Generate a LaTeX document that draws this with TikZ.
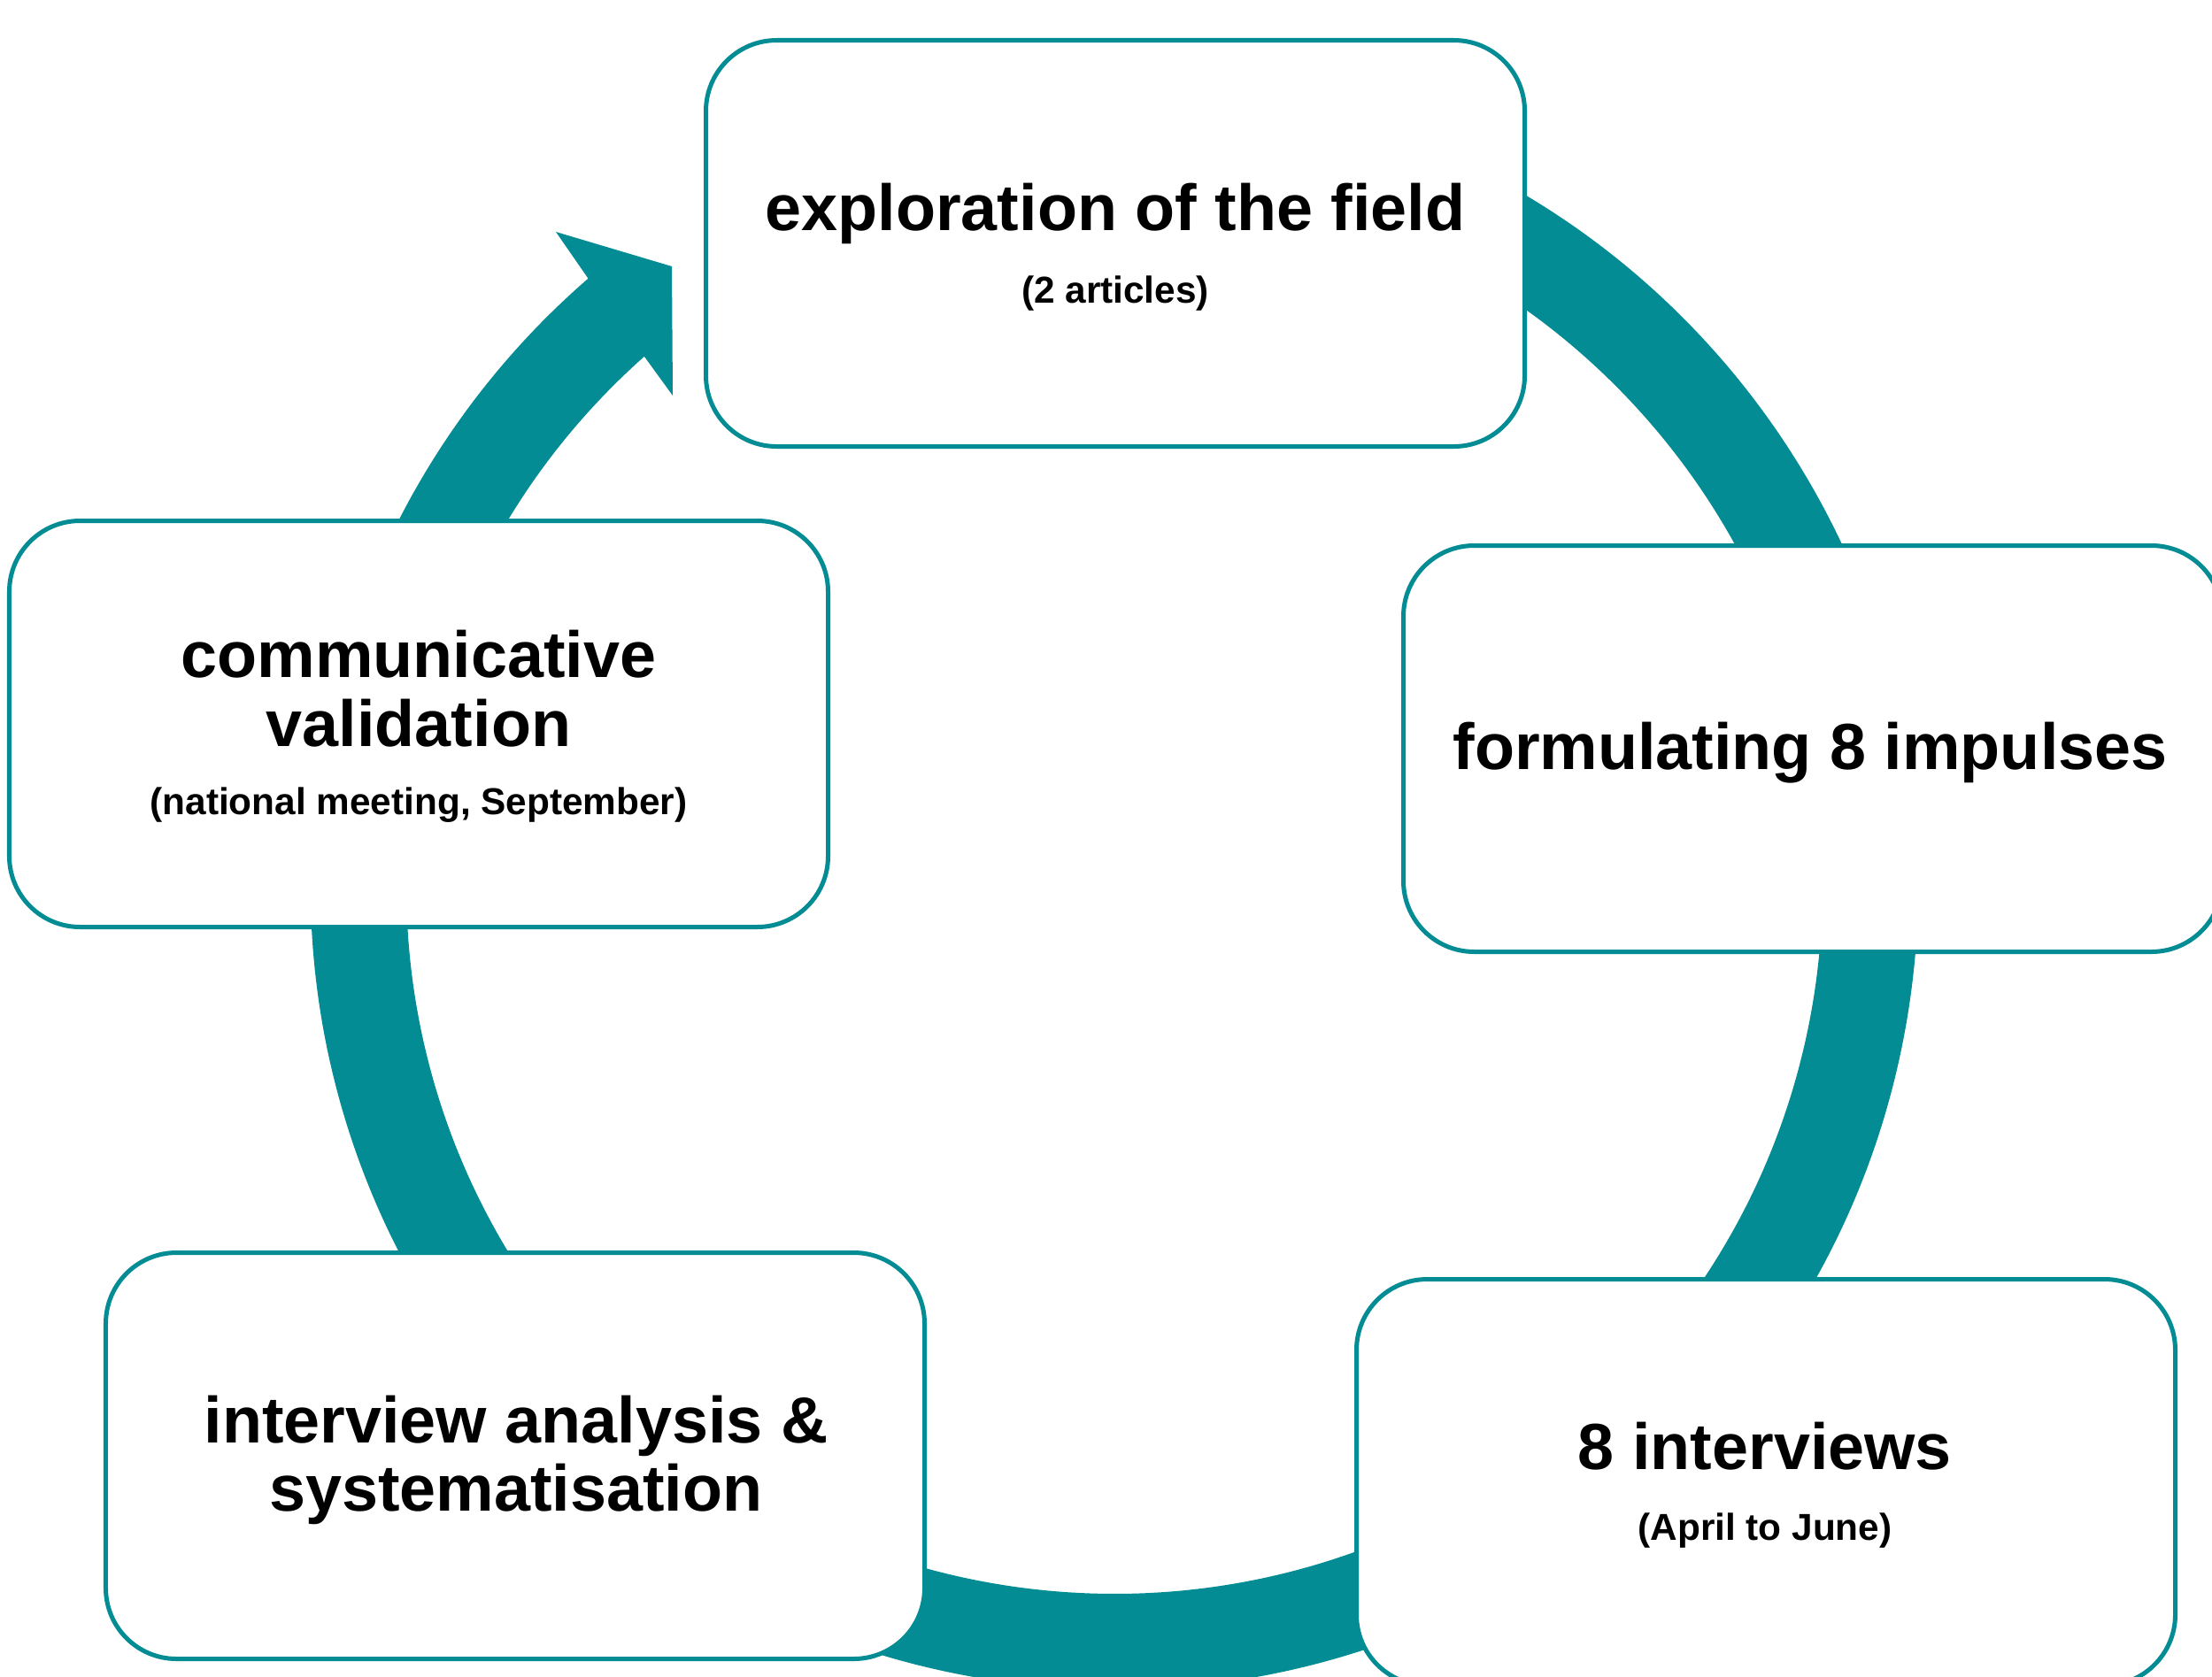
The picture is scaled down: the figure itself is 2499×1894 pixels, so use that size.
\documentclass[tikz,border=0pt]{standalone}
\usepackage{fontspec}
\setmainfont{Liberation Sans}
\usetikzlibrary{calc}
\definecolor{cyc}{RGB}{3,140,148}
\tikzset{
  stagebox/.style={draw=cyc, line width=5bp, fill=white, rounded corners=80bp,
    minimum width=925bp, minimum height=459bp, inner sep=0pt},
  titletext/.style={anchor=base, inner sep=0pt, font=\fontsize{74}{77}\selectfont\bfseries},
  subtext/.style={anchor=base, inner sep=0pt, font=\fontsize{42.5}{45}\selectfont\bfseries},
  ringfill/.style={fill=cyc}
}
\begin{document}
\begin{tikzpicture}[x=1bp,y=1bp]
\useasboundingbox (0,0) rectangle (2499,-1894);
\clip (0,0) rectangle (2499,-1894);
\fill[white] (0,0) rectangle (2499,-1894);
\coordinate (C) at (1259,-1001);
\coordinate (barbout) at (628,-262);
\coordinate (tip) at (759,-301);
\coordinate (barbin) at (760,-447);
% cycle ring with arrowhead
\fill[ringfill] ($(C)+(80:908)$) arc[start angle=80, end angle=-229.1, radius=908]
  -- (barbout) -- (tip) -- (barbin)
  -- ($(C)+(-228.4:800)$) arc[start angle=-228.4, end angle=80, radius=800] -- cycle;
% boxes
\node[stagebox] (top) at (1260,-275) {};
\node[stagebox] (right) at (2048,-846) {};
\node[stagebox] (left) at (473,-818) {};
\node[stagebox] (botleft) at (582,-1645) {};
\node[stagebox] (botright) at (1995,-1675) {};
% texts
\node[titletext] (t1) at (1260,-260) {exploration of the field};
\node[subtext] (s1) at (1260,-342) {(2 articles)};
\node[titletext] (t2) at (2045,-869) {formulating 8 impulses};
\node[titletext] (t3a) at (473,-765) {communicative};
\node[titletext] (t3b) at (473,-843) {validation};
\node[subtext] (s3) at (473,-920) {(national meeting, September)};
\node[titletext] (t4a) at (583,-1630) {interview analysis \&};
\node[titletext] (t4b) at (583,-1707) {systematisation};
\node[titletext] (t5) at (1994,-1660) {8 interviews};
\node[subtext] (s5) at (1994,-1740) {(April to June)};
\end{tikzpicture}
\end{document}
